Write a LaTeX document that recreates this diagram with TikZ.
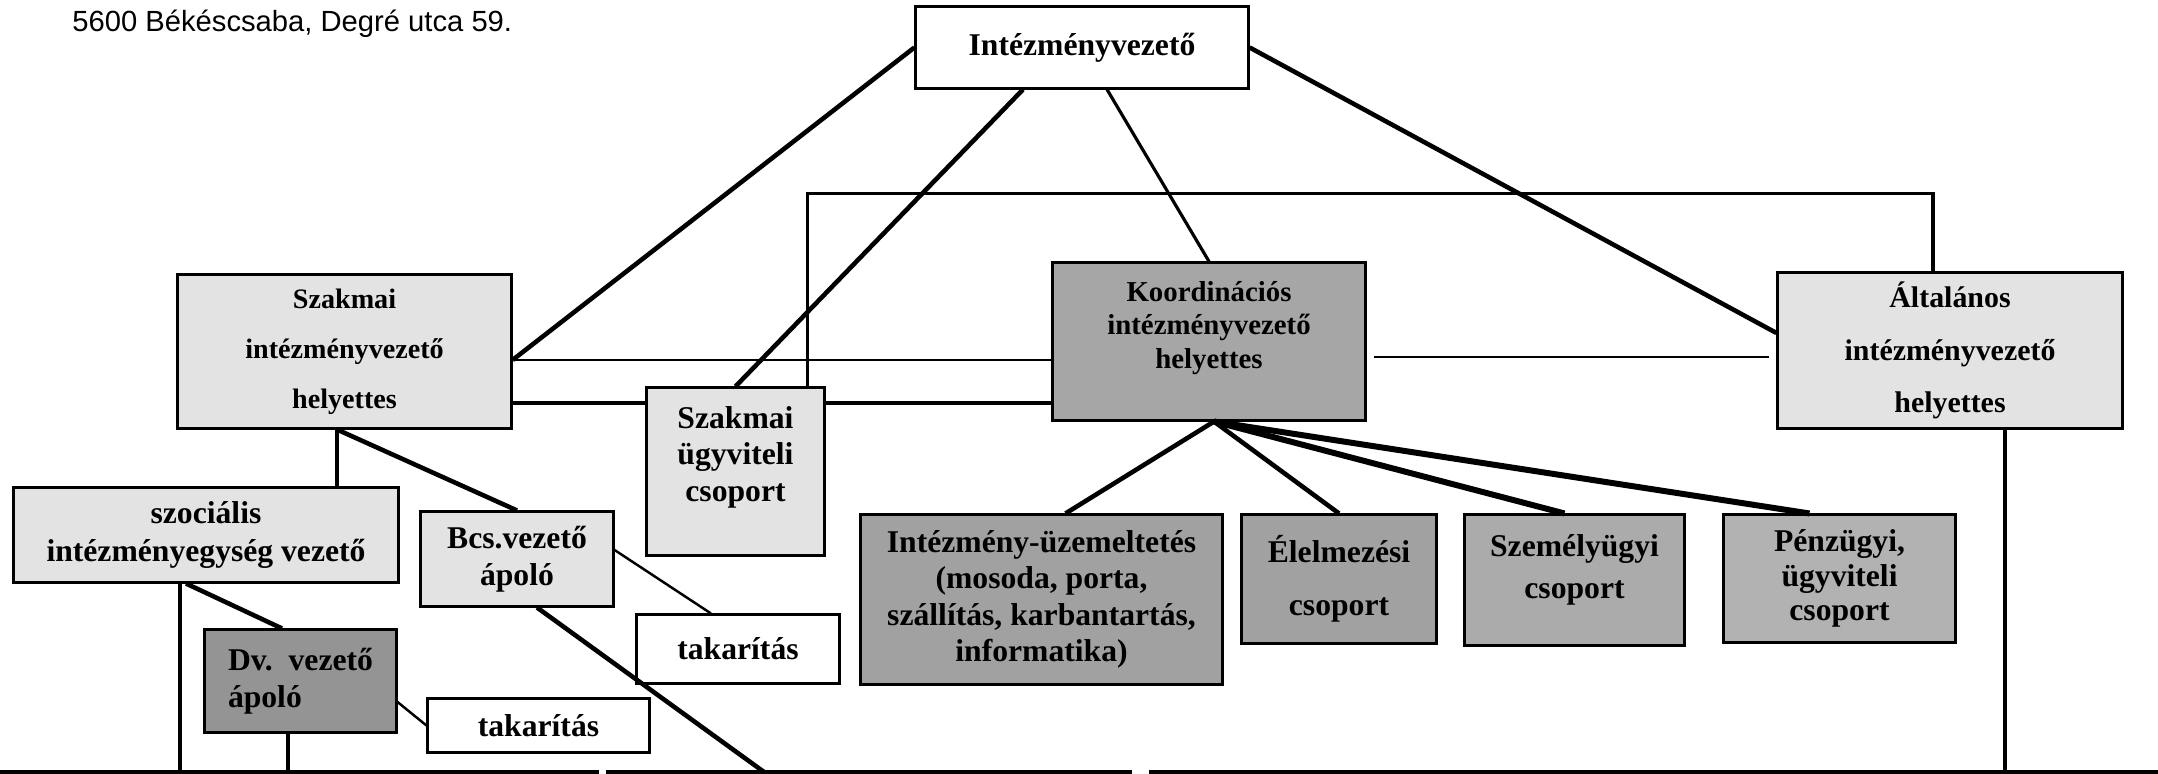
\documentclass[tikz,border=0pt]{standalone}
\usepackage{fontspec}
\setmainfont{Liberation Serif}
\newfontfamily\headfont{Liberation Sans}
\newcommand\orgfont[2]{\bfseries\fontsize{#1}{#2}\selectfont}

\begin{document}
\begin{tikzpicture}[x=0.01cm, y=-0.01cm,
    box/.style={draw, line width=0.85pt, align=center, inner sep=1pt},
    plainbox/.style={box, fill=white},
    lightbox/.style={box, fill=black!11},
    darkbox/.style={box, fill=black!37},
    strong/.style={line width=1.3pt},
    slim/.style={line width=0.7pt}]
    \useasboundingbox (0,0) rectangle (2158,774);
    \node (cim) at (60,32) [anchor=base west, font=\headfont\fontsize{8.3}{10}\selectfont] {5600 Békéscsaba, Degré utca 59.};
    \node (top) at (1082,47.5) [plainbox, minimum width=3.32cm, minimum height=0.81cm, font=\orgfont{9}{11}] {Intézményvezető};
    \node (szakmai) at (344.5,351.5) [lightbox, minimum width=3.33cm, minimum height=1.53cm, font=\orgfont{8}{14.2}] {Szakmai\\intézményvezető\\helyettes};
    \node (koord) at (1209,341.5) [darkbox, fill=black!35, minimum width=3.12cm, minimum height=1.57cm, text depth=0.33cm, font=\orgfont{8.2}{9.4}] {Koordinációs\\intézményvezető\\helyettes};
    \node (altalanos) at (1950,350.5) [lightbox, minimum width=3.44cm, minimum height=1.55cm, font=\orgfont{8.5}{15}] {Általános\\intézményvezető\\helyettes};
    \node (ugyviteli) at (735.5,471.5) [lightbox, minimum width=1.77cm, minimum height=1.67cm, text depth=0.35cm, font=\orgfont{9}{10.4}] {Szakmai\\ügyviteli\\csoport};
    \node (szocialis) at (206,535) [lightbox, minimum width=3.84cm, minimum height=0.94cm, font=\orgfont{9}{10.8}] {szociális\\intézményegység vezető};
    \node (bcs) at (517,559) [lightbox, minimum width=1.92cm, minimum height=0.94cm, font=\orgfont{9}{10.4}] {Bcs.vezető\\ápoló};
    \node (tak1) at (738,649) [plainbox, minimum width=2.02cm, minimum height=0.68cm, font=\orgfont{9}{10.4}] {takarítás};
    \node (dv) at (300.5,681) [darkbox, fill=black!42, align=left, minimum width=1.91cm, minimum height=1.02cm, font=\orgfont{9}{10.4}] {Dv.\ \ vezető\\ápoló};
    \node (tak2) at (538.5,725.5) [plainbox, minimum width=2.21cm, minimum height=0.53cm, font=\orgfont{9}{10.4}] {takarítás};
    \node (uzem) at (1041.5,599.5) [darkbox, minimum width=3.61cm, minimum height=1.69cm, font=\orgfont{9}{10.4}] {Intézmény-üzemeltetés\\(mosoda, porta,\\szállítás, karbantartás,\\informatika)};
    \node (elelm) at (1339,579) [darkbox, minimum width=1.94cm, minimum height=1.28cm, font=\orgfont{9}{15}] {Élelmezési\\csoport};
    \node (szemely) at (1574.5,580) [darkbox, fill=black!33, minimum width=2.19cm, minimum height=1.30cm, text depth=0.27cm, font=\orgfont{9}{11.9}] {Személyügyi\\csoport};
    \node (penz) at (1839.5,578.5) [darkbox, fill=black!30, minimum width=2.31cm, minimum height=1.27cm, font=\orgfont{9}{9.9}] {Pénzügyi,\\ügyviteli\\csoport};

    \coordinate (foot) at (0,772);
    \coordinate (bcsfoot) at (764,772);
    \coordinate (sz1) at ([yshift=-0.85mm]szakmai.east);
    \coordinate (sz2) at ([yshift=-5.15mm]szakmai.east);
    \coordinate (s1) at ([xshift=-0.75mm]szakmai.south);
    \coordinate (k0) at ([xshift=0.5mm]koord.south);
    \coordinate (k3) at ([yshift=-1.55mm]koord.east);
    \coordinate (so1) at ([xshift=-2.6mm]szocialis.south);
    \coordinate (dv1) at ([xshift=-1.25mm]dv.south);
    \coordinate (al1) at ([xshift=5.5mm]altalanos.south);

    \draw [strong] (top.west) -- (sz1);
    \draw [strong] ([xshift=-5.9mm]top.south) -- (ugyviteli.north);
    \draw [line width=0.9pt] ([xshift=2.5mm]top.south) -- (koord.north);
    \draw [strong] (top.east) -- ([yshift=1.75mm]altalanos.west);
    \draw [line width=1pt] ([xshift=-1.8mm]ugyviteli.north east) -- ++(0,-193) -| ([xshift=-1.7mm]altalanos.north);
    \draw [slim] (sz1) -- (sz1 -| koord.west);
    \draw [strong] (sz2) -- (sz2 -| ugyviteli.west);
    \draw [strong] (sz2 -| ugyviteli.east) -- (sz2 -| koord.west);
    \draw [slim, shorten <=0.7mm, shorten >=0.7mm] (k3) -- (k3 -| altalanos.west);
    \draw [strong] (k0) -- ([xshift=2.4mm]uzem.north);
    \draw [strong] (k0) -- (elelm.north);
    \draw [line width=1.7pt] (k0) -- ([xshift=-1mm]szemely.north);
    \draw [line width=1.7pt] (k0) -- ([xshift=-3mm]penz.north);
    \draw [strong] (s1) -- (s1 |- szocialis.north);
    \draw [strong] (s1) -- (bcs.north);
    \draw [slim] ([yshift=0.9mm]bcs.east) -- ([xshift=-2.7mm]tak1.north);
    \draw [strong] ([xshift=2mm]bcs.south) -- (bcsfoot);
    \draw [line width=1pt] (so1) -- (so1 |- foot);
    \draw [strong] ([xshift=-2mm]szocialis.south) -- ([xshift=-1.85mm]dv.north);
    \draw [slim] ([yshift=-2.1mm]dv.east) -- (tak2.west);
    \draw [line width=1pt] (dv1) -- (dv1 |- foot);
    \draw [line width=1pt] (al1) -- (al1 |- foot);
    \draw [strong] (foot) -- ++(599,0) ++(7,0) -- ++(526,0) ++(17,0) -- ++(1009,0);
\end{tikzpicture}
\end{document}
